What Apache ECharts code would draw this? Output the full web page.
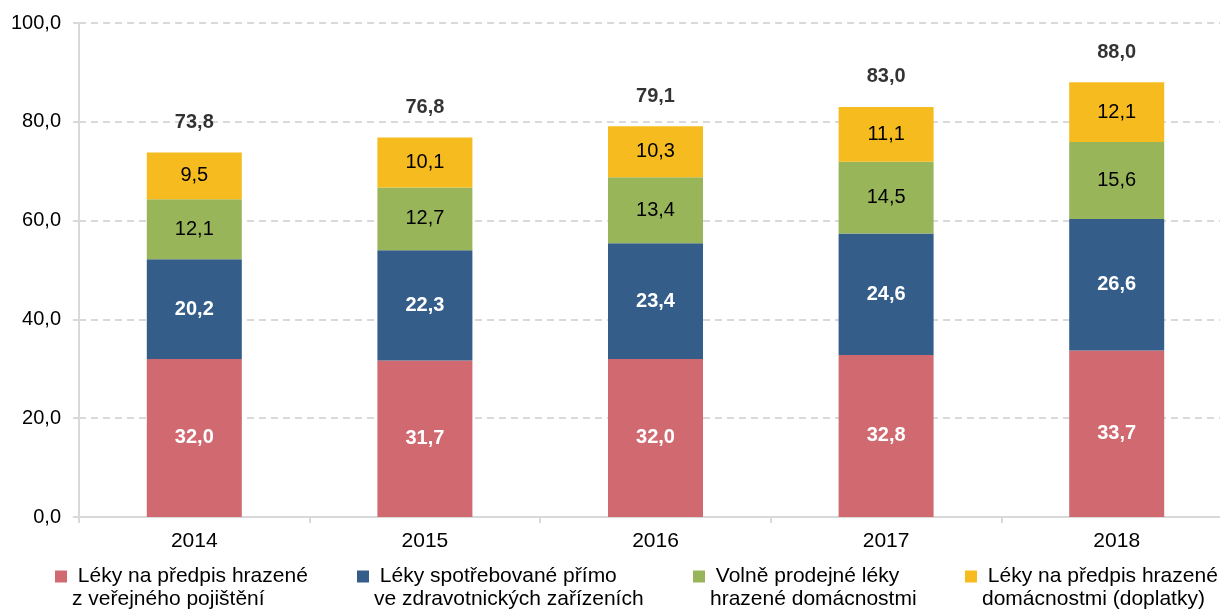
<!DOCTYPE html>
<html>
<head>
<meta charset="utf-8">
<script src="https://cdn.jsdelivr.net/npm/echarts@6/dist/echarts.min.js"></script>
<style>
  html, body { margin: 0; padding: 0; background: #fff; }
  #chart { width: 1220px; height: 612px; }
</style>
</head>
<body>
<div id="chart"></div>
<script>
const years = ['2014', '2015', '2016', '2017', '2018'];
const publicRx = [32.0, 31.7, 32.0, 32.8, 33.7];
const facilities = [20.2, 22.3, 23.4, 24.6, 26.6];
const otc = [12.1, 12.7, 13.4, 14.5, 15.6];
const copay = [9.5, 10.1, 10.3, 11.1, 12.1];
const totals = [73.8, 76.8, 79.1, 83.0, 88.0];
const yTicks = { min: 0, max: 100, interval: 20 };

const names = [
  ' Léky na předpis hrazené\nz veřejného pojištění',
  ' Léky spotřebované přímo\nve zdravotnických zařízeních',
  ' Volně prodejné léky\nhrazené domácnostmi',
  ' Léky na předpis hrazené\ndomácnostmi (doplatky)'
];
const colors = ['#D06A70', '#345D8A', '#98B55A', '#F5BB1F'];
const legendLeft = [55, 357, 693, 965];

const font = "'Liberation Sans', Arial, sans-serif";
const fmt = v => v.toFixed(1).replace('.', ',');

function barSeries(i, data, light) {
  return {
    name: names[i],
    type: 'bar',
    stack: 'total',
    barWidth: 95,
    data: data,
    itemStyle: { color: colors[i] },
    label: {
      show: true,
      position: 'inside',
      fontFamily: font,
      fontSize: 20,
      fontWeight: light ? 'bold' : 'normal',
      color: light ? '#fff' : '#000',
      formatter: p => fmt(p.value)
    }
  };
}

let myChart = echarts.init(document.getElementById('chart'));
let option = {
  animation: false,
  textStyle: { fontFamily: font },
  grid: { left: 79, right: -12, top: 23, bottom: 95, outerBoundsMode: 'none' },
  // blank first line keeps the square level with the first text line
  legend: names.map((n, i) => ({
    data: [n],
    left: legendLeft[i],
    top: 542,
    padding: 0,
    itemWidth: 12,
    itemHeight: 12,
    icon: 'rect',
    formatter: name => '\n' + name,
    textStyle: { fontFamily: font, fontSize: 21, lineHeight: 23, color: '#000' }
  })),
  xAxis: {
    type: 'category',
    data: years,
    axisLine: { lineStyle: { color: '#d9d9d9', width: 2 } },
    axisTick: { show: true, length: 6, lineStyle: { color: '#d9d9d9', width: 2 } },
    axisLabel: { color: '#000', fontSize: 21, margin: 14, fontFamily: font }
  },
  yAxis: {
    type: 'value',
    min: yTicks.min,
    max: yTicks.max,
    interval: yTicks.interval,
    axisLine: { show: true, lineStyle: { color: '#d9d9d9', width: 2 } },
    axisTick: { show: true, length: 6, lineStyle: { color: '#d9d9d9', width: 2 } },
    axisLabel: { color: '#000', fontSize: 20, margin: 18, fontFamily: font, formatter: v => fmt(v) },
    splitLine: { show: true, lineStyle: { color: '#d9d9d9', width: 2, type: [7, 5] } }
  },
  series: [
    barSeries(0, publicRx, true),
    barSeries(1, facilities, true),
    barSeries(2, otc, false),
    barSeries(3, copay, false),
    {
      name: 'total',
      type: 'scatter',
      symbolSize: 0,
      data: totals,
      label: {
        show: true,
        position: 'top',
        distance: 20,
        fontFamily: font,
        fontSize: 20,
        fontWeight: 'bold',
        color: '#000',
        formatter: p => fmt(p.value)
      }
    }
  ]
};
myChart.setOption(option);
</script>
</body>
</html>
